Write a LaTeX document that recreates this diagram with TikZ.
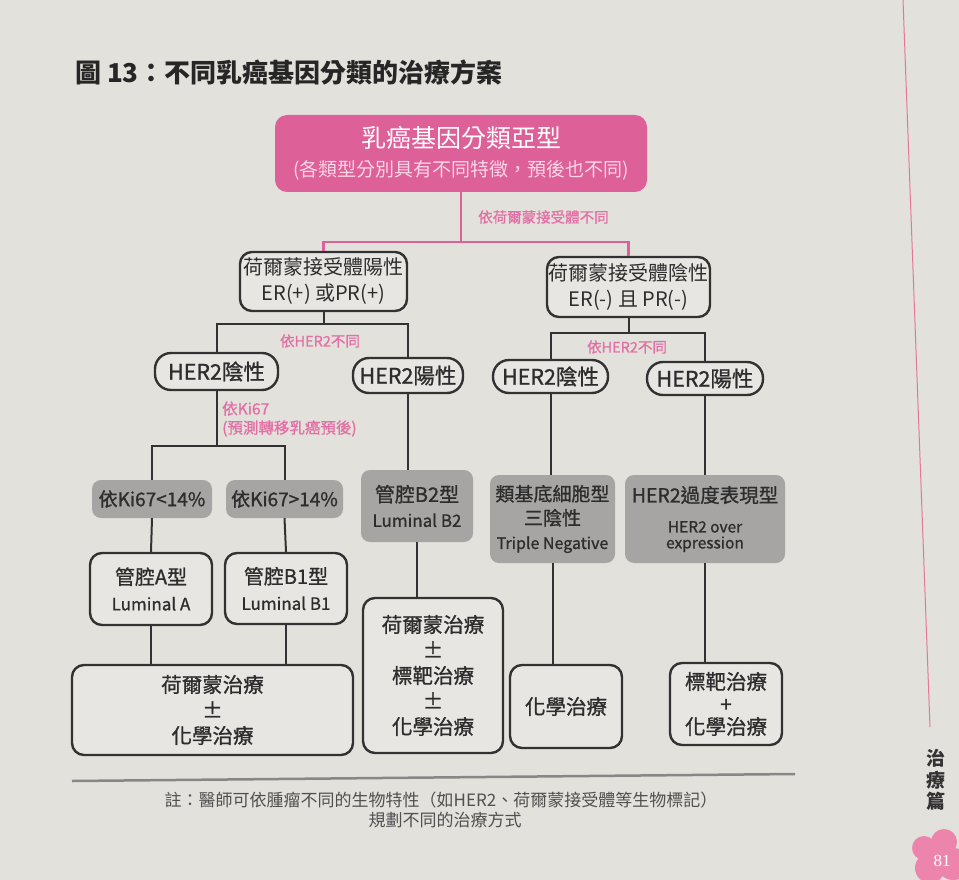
\documentclass[tikz,border=0pt]{standalone}
\usepackage{fontspec}
\setmainfont{Noto Sans CJK TC}
\newfontfamily\medf{Noto Sans CJK TC}[FakeBold=1]
\newfontfamily\serf{Liberation Serif}
\newcommand\fz[2]{\fontsize{#1}{#2}\selectfont}
\definecolor{paper}{RGB}{227,225,220}
\definecolor{boxfill}{RGB}{232,230,226}
\definecolor{grayfill}{RGB}{166,165,163}
\definecolor{pinkbox}{RGB}{222,96,152}
\definecolor{pinktxt}{RGB}{226,112,165}
\definecolor{rootsub}{RGB}{250,214,230}
\definecolor{ink}{RGB}{45,45,45}
\definecolor{lineink}{RGB}{50,50,50}
\definecolor{notegray}{RGB}{80,80,80}
\definecolor{rulegray}{RGB}{135,135,135}
\definecolor{sidepink}{RGB}{226,120,152}
\definecolor{flower}{RGB}{236,132,172}
\tikzset{
  wbox/.style={draw=lineink, line width=2.4pt, fill=boxfill, rounded corners=12pt, inner sep=0pt, align=center, text=ink},
  pill/.style={wbox, rounded corners=16pt, font=\medf\fz{21.5}{26}},
  gbox/.style={fill=grayfill, rounded corners=9pt, inner sep=0pt, align=center, text=ink},
  rootbox/.style={fill=pinkbox, rounded corners=12pt, inner sep=0pt, align=center, text=white},
  conn/.style={draw=lineink, line width=2pt},
  pconn/.style={draw=pinkbox, line width=2.2pt},
  plabel/.style={text=pinktxt, font=\medf\fz{14.5}{19}, inner sep=0pt, align=left},
  treat/.style={wbox, font=\medf\fz{20.5}{25.5}}
}
\begin{document}
\begin{tikzpicture}[x=1pt,y=-1pt]
\useasboundingbox (0,0) rectangle (959,880);
\clip (0,0) rectangle (959,880);
\fill[paper] (0,0) rectangle (959,880);

% title
\node[anchor=west, font=\bfseries\fz{26}{30}, text=black!85, inner sep=0pt] (title) at (75,73) {圖 13：不同乳癌基因分類的治療方案};

% root
\node[rootbox, font=\fz{19}{29}, minimum width=372, minimum height=77] (root) at (461,153.5)
  {{\fz{25}{29}乳癌基因分類亞型}\\{\color{rootsub}(各類型分別具有不同特徵，預後也不同)}};

% level 1
\node[wbox, font=\fz{20}{26}, minimum width=167, minimum height=59] (erp) at (323.5,281.5) {荷爾蒙接受體陽性\\ER(+) 或PR(+)};
\node[wbox, font=\fz{20}{26}, minimum width=163, minimum height=60] (ern) at (628.5,287) {荷爾蒙接受體陰性\\ER(-) 且 PR(-)};

% level 2
\node[pill, minimum width=123, minimum height=37] (h2n1) at (216.5,371.5) {HER2陰性};
\node[pill, minimum width=110, minimum height=35] (h2p1) at (408,375.5) {HER2陽性};
\node[pill, minimum width=115, minimum height=33] (h2n2) at (550.5,376.5) {HER2陰性};
\node[pill, minimum width=116, minimum height=33] (h2p2) at (705,378.5) {HER2陽性};

% gray boxes
\node[gbox, font=\medf\fz{19}{24}, minimum width=120, minimum height=38] (ki1) at (152,499) {依Ki67<14\%};
\node[gbox, font=\medf\fz{19}{24}, minimum width=117, minimum height=38] (ki2) at (284.5,499) {依Ki67>14\%};
\node[gbox, font=\medf\fz{20}{25}, minimum width=112, minimum height=72] (b2) at (417,506) {管腔B2型\\{\fz{17}{25}Luminal B2}};
\node[gbox, font=\medf\fz{19}{24}, minimum width=125, minimum height=88] (tn) at (552.5,519) {類基底細胞型\\三陰性\\{\fz{16}{24}Triple Negative}};
\node[gbox, font=\medf\fz{15.5}{16}, minimum width=160, minimum height=88] (ho) at (705,519) {{\fz{19.5}{16}HER2過度表現型}\\[14pt]HER2 over\\expression};

% luminal boxes
\node[wbox, font=\medf\fz{20}{26}, minimum width=122, minimum height=72] (la) at (151,589) {管腔A型\\{\fz{17}{26}Luminal A}};
\node[wbox, font=\medf\fz{20}{26}, minimum width=122, minimum height=71] (lb1) at (286,588.5) {管腔B1型\\{\fz{17}{26}Luminal B1}};

% treatments
\node[treat, minimum width=281, minimum height=90] (t1) at (212.5,710) {荷爾蒙治療\\±\\化學治療};
\node[treat, font=\medf\fz{20.5}{25.5}, minimum width=140, minimum height=155] (t2) at (433,675.5) {荷爾蒙治療\\±\\標靶治療\\±\\化學治療};
\node[treat, minimum width=112, minimum height=83] (t3) at (566,706.5) {化學治療};
\node[treat, font=\medf\fz{20.5}{22.5}, minimum width=112, minimum height=82] (t4) at (726,704) {標靶治療\\+\\化學治療};

% pink connectors
\path (root.south) ++(0,50) coordinate (s1);
\draw[pconn] (root.south) -- (s1);
\draw[pconn] (erp.north) |- (s1) -| (ern.north);
\node[plabel, anchor=west] (lab1) at (478,217) {依荷爾蒙接受體不同};

% black connectors
\path (erp.south) ++(0,12) coordinate (s2);
\draw[conn] (erp.south) -- (s2);
\draw[conn] (h2n1.north) |- (s2) -| (h2p1.north);
\node[plabel] (lab2) at (320,341) {依HER2不同};

\path (ern.south) ++(0,15) coordinate (s3);
\draw[conn] (ern.south) -- (s3);
\draw[conn] (h2n2.north) |- (s3) -| (h2p2.north);
\node[plabel] (lab3) at (627,347) {依HER2不同};

\path (h2n1.south) ++(0,55) coordinate (s4);
\draw[conn] (h2n1.south) -- (s4);
\draw[conn] (ki1.north) |- (s4) -| (ki2.north);
\node[plabel, font=\medf\fz{15.5}{19}, anchor=west] (lab4) at (222,419) {依Ki67\\(預測轉移乳癌預後)};

\draw[conn] (h2p1.south) -- (h2p1.south |- b2.north);
\draw[conn] (h2n2.south) -- (h2n2.south |- tn.north);
\draw[conn] (h2p2.south) -- (ho.north);
\draw[conn] (ki1.south) -- (la.north);
\draw[conn] (ki2.south) -- (lb1.north);
\draw[conn] (la.south) -- (la.south |- t1.north);
\draw[conn] (lb1.south) -- (lb1.south |- t1.north);
\draw[conn] (b2.south) -- (b2.south |- t2.north);
\draw[conn] (tn.south) -- (tn.south |- t3.north);
\draw[conn] (ho.south) -- (ho.south |- t4.north);

% rule and note
\draw[rulegray, line width=2.5pt] (72,781) -- (795,774);
\node[font=\fz{17}{20}, text=notegray, inner sep=0pt] (note1) at (441,800) {註：醫師可依腫瘤不同的生物特性（如HER2、荷爾蒙接受體等生物標記）};
\node[font=\fz{17}{20}, text=notegray, inner sep=0pt] (note2) at (445,820) {規劃不同的治療方式};

% page side elements
\draw[sidepink, line width=1pt] (903,0) -- (930,727);
\node[font=\bfseries\fz{19}{21.5}, text=black!80, align=center, inner sep=0pt] (side) at (936,780) {治\\療\\篇};
\fill[flower] (924,848) circle (12) (944,842) circle (13) (930,868) circle (15) (953,864) circle (16) (940,857) circle (14);
\node[font=\serf\fz{17}{20}, text=white, inner sep=0pt] (pagenum) at (942,861) {81};
\end{tikzpicture}
\end{document}
